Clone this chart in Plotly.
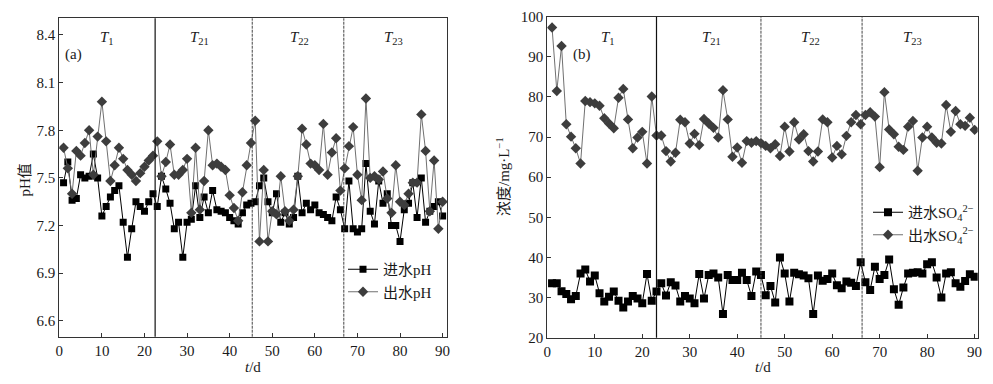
import plotly.graph_objects as go

# ---------------- data ----------------
days = list(range(1, 91))

ph_in = [7.47, 7.60, 7.36, 7.37, 7.52, 7.50, 7.51, 7.65, 7.50, 7.26,
         7.32, 7.38, 7.42, 7.45, 7.22, 7.00, 7.18, 7.35, 7.32, 7.29,
         7.35, 7.40, 7.32, 7.51, 7.43, 7.34, 7.18, 7.22, 7.00, 7.22,
         7.24, 7.45, 7.25, 7.38, 7.28, 7.42, 7.30, 7.29, 7.28, 7.25,
         7.23, 7.21, 7.28, 7.33, 7.34, 7.35, 7.45, 7.50, 7.35, 7.28,
         7.40, 7.22, 7.28, 7.21, 7.25, 7.51, 7.28, 7.34, 7.30, 7.33,
         7.28, 7.27, 7.25, 7.23, 7.38, 7.30, 7.18, 7.48, 7.18, 7.16,
         7.18, 7.59, 7.29, 7.21, 7.48, 7.34, 7.40, 7.20, 7.20, 7.10,
         7.30, 7.34, 7.47, 7.25, 7.50, 7.22, 7.29, 7.32, 7.35, 7.26]

ph_out = [7.69, 7.56, 7.40, 7.67, 7.64, 7.72, 7.80, 7.52, 7.76, 7.98,
          7.73, 7.48, 7.58, 7.69, 7.62, 7.55, 7.52, 7.48, 7.53, 7.57,
          7.61, 7.64, 7.73, 7.51, 7.60, 7.71, 7.52, 7.52, 7.55, 7.62,
          7.28, 7.69, 7.30, 7.48, 7.80, 7.58, 7.59, 7.57, 7.55, 7.39,
          7.31, 7.23, 7.41, 7.58, 7.72, 7.86, 7.10, 7.55, 7.10, 7.29,
          7.27, 7.51, 7.29, 7.23, 7.30, 7.51, 7.81, 7.71, 7.59, 7.58,
          7.55, 7.84, 7.52, 7.66, 7.75, 7.42, 7.56, 7.70, 7.82, 7.52,
          7.36, 8.00, 7.50, 7.51, 7.49, 7.54, 7.37, 7.28, 7.58, 7.35,
          7.33, 7.40, 7.47, 7.47, 7.90, 7.67, 7.29, 7.61, 7.18, 7.35]

so4_in = [33.6, 33.6, 31.6, 30.9, 29.6, 30.4, 36.0, 37.0, 34.0, 35.5,
          31.1, 29.0, 30.2, 31.5, 29.2, 27.5, 29.0, 30.4, 29.8, 28.6,
          35.9, 29.2, 31.5, 33.6, 30.5, 33.8, 33.0, 29.0, 30.4, 29.8,
          28.6, 35.9, 29.8, 35.6, 36.0, 35.0, 25.9, 35.6, 34.4, 34.4,
          36.2, 34.4, 30.4, 36.5, 35.6, 30.6, 32.9, 28.8, 40.0, 36.0,
          29.0, 36.2, 35.8, 35.5, 34.8, 25.9, 35.5, 34.2, 34.6, 36.0,
          33.1, 32.3, 34.0, 33.7, 32.9, 38.8, 33.8, 31.9, 37.7, 34.6,
          35.6, 39.5, 32.1, 28.2, 32.5, 36.0, 36.2, 36.3, 36.0, 38.3,
          38.8, 35.0, 30.0, 36.0, 36.3, 33.6, 32.7, 34.1, 35.8, 35.2]

so4_out = [97.3, 81.5, 92.7, 73.2, 70.1, 67.2, 63.4, 79.0, 78.7, 78.4,
           77.8, 74.7, 73.4, 72.2, 79.8, 82.0, 74.4, 67.2, 69.9, 71.3,
           63.4, 80.1, 70.4, 70.4, 66.5, 63.9, 66.1, 74.3, 73.7, 68.4,
           70.8, 68.0, 74.5, 73.4, 72.3, 69.9, 81.7, 74.4, 65.1, 67.4,
           63.6, 69.0, 68.6, 69.0, 68.5, 67.8, 67.2, 68.2, 65.3, 72.6,
           66.4, 73.7, 69.4, 70.7, 66.5, 63.9, 66.4, 74.4, 73.7, 64.9,
           67.8, 65.7, 70.3, 73.7, 75.5, 73.2, 75.5, 76.2, 75.1, 62.5,
           81.2, 71.9, 70.7, 67.6, 66.8, 72.6, 74.0, 61.6, 69.9, 72.6,
           69.9, 68.6, 68.4, 78.0, 71.3, 76.5, 73.2, 72.8, 74.8, 71.8]

phase_labels = ["<i>T</i><sub>1</sub>", "<i>T</i><sub>21</sub>",
                "<i>T</i><sub>22</sub>", "<i>T</i><sub>23</sub>"]
phase_bounds_a = [22.5, 45.3, 66.8]
phase_bounds_b = [23.0, 45.0, 66.3]
phase_centers_a = [11.1, 33.0, 56.3, 78.5]
phase_centers_b = [12.8, 34.6, 55.5, 77.0]

x_ticks = [0, 10, 20, 30, 40, 50, 60, 70, 80, 90]
ph_ticks = [6.6, 6.9, 7.2, 7.5, 7.8, 8.1, 8.4]
so4_ticks = [20, 30, 40, 50, 60, 70, 80, 90, 100]

# ---------------- style ----------------
SERIF = "Liberation Serif, Times New Roman, Noto Sans CJK SC, serif"
FS = 15
W, H = 993, 384
IN_COLOR = "#000000"
OUT_MARK = "#3d3d3d"
OUT_LINE = "#707070"
TXT = "#1a1a1a"

fig = go.Figure()

fig.add_trace(go.Scatter(x=days, y=ph_in, mode="lines+markers", name="进水pH",
                         line=dict(color=IN_COLOR, width=1),
                         marker=dict(symbol="square", size=7, color=IN_COLOR),
                         xaxis="x", yaxis="y", legend="legend"))
fig.add_trace(go.Scatter(x=days, y=ph_out, mode="lines+markers", name="出水pH",
                         line=dict(color=OUT_LINE, width=1),
                         marker=dict(symbol="diamond", size=8, color=OUT_MARK),
                         xaxis="x", yaxis="y", legend="legend"))
fig.add_trace(go.Scatter(x=days, y=so4_in, mode="lines+markers",
                         name="进水SO<sub>4</sub><sup>2−</sup>",
                         line=dict(color=IN_COLOR, width=1),
                         marker=dict(symbol="square", size=8, color=IN_COLOR),
                         xaxis="x2", yaxis="y2", legend="legend2"))
fig.add_trace(go.Scatter(x=days, y=so4_out, mode="lines+markers",
                         name="出水SO<sub>4</sub><sup>2−</sup>",
                         line=dict(color=OUT_LINE, width=1),
                         marker=dict(symbol="diamond", size=8, color=OUT_MARK),
                         xaxis="x2", yaxis="y2", legend="legend2"))

axis_common = dict(showgrid=False, zeroline=False, showline=True, mirror=True,
                   automargin=False,
                   linecolor="#333333", linewidth=1.2, ticks="inside", ticklen=4,
                   tickcolor="#333333", tickfont=dict(family=SERIF, size=FS, color=TXT))

xa = (59.3 / W, 447.3 / W)
xb = (547.3 / W, 977.7 / W)
ya = (1 - 336.7 / H, 1 - 18.3 / H)
yb = (1 - 337.7 / H, 1 - 16.7 / H)

fig.update_layout(
    template="none",
    width=W, height=H,
    margin=dict(l=0, r=0, t=0, b=0, autoexpand=False),
    paper_bgcolor="white", plot_bgcolor="white",
    showlegend=True,
    xaxis=dict(domain=xa, range=[0, 91.1], tickvals=x_ticks, anchor="y", **axis_common),
    yaxis=dict(domain=ya, range=[6.5, 8.505], tickvals=ph_ticks, tickformat=".1f",
               anchor="x", **axis_common),
    xaxis2=dict(domain=xb, range=[0, 90.65], tickvals=x_ticks, anchor="y2", **axis_common),
    yaxis2=dict(domain=yb, range=[20, 100], tickvals=so4_ticks, anchor="x2", **axis_common),
    legend=dict(x=343 / W, y=1 - 253 / H, xanchor="left", yanchor="top",
                bgcolor="rgba(0,0,0,0)", font=dict(family=SERIF, size=FS, color=TXT),
                tracegroupgap=0, itemwidth=30),
    legend2=dict(x=868 / W, y=1 - 196 / H, xanchor="left", yanchor="top",
                 bgcolor="rgba(0,0,0,0)", font=dict(family=SERIF, size=FS, color=TXT),
                 tracegroupgap=0, itemwidth=30),
)

shapes = []
for i, b in enumerate(phase_bounds_a):
    shapes.append(dict(type="line", xref="x", yref="y domain", x0=b, x1=b, y0=0, y1=1,
                       line=dict(color="#111" if i == 0 else "#444", width=1.2 if i == 0 else 1,
                                 dash="solid" if i == 0 else "3px,1px")))
for i, b in enumerate(phase_bounds_b):
    shapes.append(dict(type="line", xref="x2", yref="y2 domain", x0=b, x1=b, y0=0, y1=1,
                       line=dict(color="#111" if i == 0 else "#444", width=1.2 if i == 0 else 1,
                                 dash="solid" if i == 0 else "3px,1px")))
fig.update_layout(shapes=shapes)

def A(**kw):
    d = dict(showarrow=False, xanchor="center", yanchor="middle",
             font=dict(family=SERIF, size=FS, color=TXT))
    d.update(kw)
    return d

ann = []
for lab, cx in zip(phase_labels, phase_centers_a):
    ann.append(A(x=cx, y=1 - 19.5 / 318.4, xref="x", yref="y domain", text=lab))
for lab, cx in zip(phase_labels, phase_centers_b):
    ann.append(A(x=cx, y=1 - 21 / 321, xref="x2", yref="y2 domain", text=lab))
ann.append(A(x=73.5 / W, y=1 - 55 / H, xref="paper", yref="paper", text="(a)"))
ann.append(A(x=582 / W, y=1 - 55 / H, xref="paper", yref="paper", text="(b)"))
ann.append(A(x=24.5 / W, y=1 - 180 / H, xref="paper", yref="paper", text="pH值",
             textangle=-90))
ann.append(A(x=503 / W, y=1 - 176 / H, xref="paper", yref="paper",
             text="浓度/mg·L<sup>−1</sup>", textangle=-90))
ann.append(A(x=253 / W, y=1 - 367 / H, xref="paper", yref="paper", text="<i>t</i>/d"))
ann.append(A(x=763 / W, y=1 - 367 / H, xref="paper", yref="paper", text="<i>t</i>/d"))
fig.update_layout(annotations=ann)

fig.write_html("out.html", config={"displayModeBar": False},
               post_script="document.body.style.margin='0';document.body.style.overflow='hidden';")
